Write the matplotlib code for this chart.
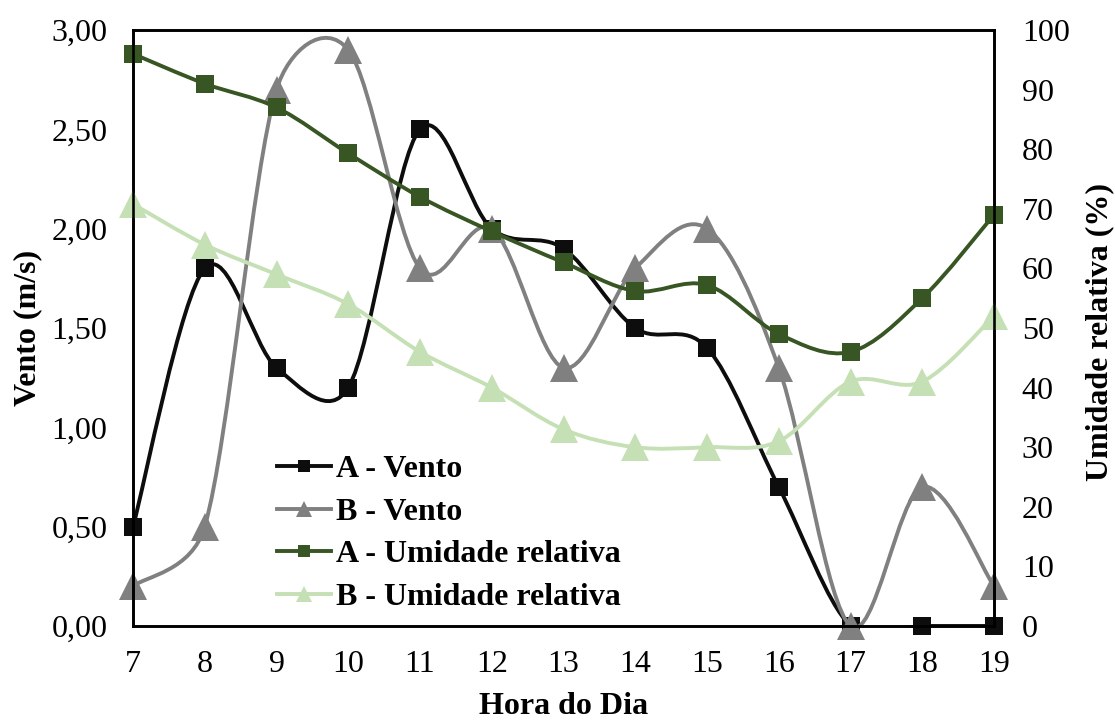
import matplotlib
matplotlib.use("Agg")
import matplotlib.pyplot as plt
from matplotlib.path import Path
from matplotlib.patches import PathPatch
from matplotlib.lines import Line2D
import numpy as np

plt.rcParams['font.family'] = ['Liberation Serif', 'DejaVu Serif']

hours = [7, 8, 9, 10, 11, 12, 13, 14, 15, 16, 17, 18, 19]
a_vento = [0.5, 1.8, 1.3, 1.2, 2.5, 2.0, 1.9, 1.5, 1.4, 0.7, 0.0, 0.0, 0.0]
b_vento = [0.2, 0.5, 2.7, 2.9, 1.8, 2.0, 1.3, 1.8, 2.0, 1.3, 0.0, 0.7, 0.2]
a_umid = [96, 91, 87, 79.3, 72, 66.2, 61, 56.2, 57.2, 49, 46, 55, 69]
b_umid = [70.8, 64, 59, 54, 46, 40, 33, 30, 30, 31, 41, 41, 52]

left_ticks = [0, 0.5, 1.0, 1.5, 2.0, 2.5, 3.0]
left_labels = ["0,00", "0,50", "1,00", "1,50", "2,00", "2,50", "3,00"]
right_ticks = [0, 10, 20, 30, 40, 50, 60, 70, 80, 90, 100]

labels = ["A - Vento", "B - Vento", "A - Umidade relativa", "B - Umidade relativa"]
colors = ["#0d0d0d", "#808080", "#375623", "#c5e0b4"]


def excel_smooth_path(ax, x, y):
    """Excel-style smoothed line: Bezier segments, control points limited
    to half the segment length (computed in display space)."""
    trans = ax.transData
    pts = trans.transform(np.column_stack([x, y]).astype(float))
    n = len(pts)
    f = 1.0 / 6.0
    verts = [pts[0]]
    codes = [Path.MOVETO]
    for i in range(n - 1):
        p0 = pts[i - 1] if i > 0 else pts[i]
        p1 = pts[i]
        p2 = pts[i + 1]
        p3 = pts[i + 2] if i + 2 < n else pts[i + 1]
        d02 = np.hypot(*(p2 - p0))
        d12 = np.hypot(*(p2 - p1))
        d13 = np.hypot(*(p3 - p1))
        f1 = f if d02 * f <= d12 / 2 else (d12 / (2 * d02) if d02 > 0 else 0)
        f2 = f if d13 * f <= d12 / 2 else (d12 / (2 * d13) if d13 > 0 else 0)
        c1 = p1 + f1 * (p2 - p0)
        c2 = p2 - f2 * (p3 - p1)
        verts += [c1, c2, p2]
        codes += [Path.CURVE4] * 3
    data_verts = trans.inverted().transform(np.array(verts))
    return Path(data_verts, codes)


fig = plt.figure(figsize=(11.15, 7.2), dpi=100)
ax = fig.add_axes([133 / 1115, 1 - 626 / 720, (994 - 133) / 1115, (626 - 30) / 720])
ax2 = ax.twinx()

ax.set_xlim(7, 19)
ax.set_ylim(0, 3)
ax2.set_xlim(7, 19)
ax2.set_ylim(0, 100)

lw = 2.8
sq = 13.5
tri = 20

series = [
    (ax, a_vento, colors[0], 's', sq),
    (ax, b_vento, colors[1], '^', tri),
    (ax2, a_umid, colors[2], 's', sq),
    (ax2, b_umid, colors[3], '^', tri),
]
for k, (a, ys, c, m, ms) in enumerate(series):
    p = PathPatch(excel_smooth_path(a, hours, ys), fill=False, edgecolor=c, linewidth=lw,
                  zorder=2 + k * 0.1, capstyle='round', joinstyle='round')
    a.add_patch(p)
    a.plot(hours, ys, linestyle='none', marker=m, markersize=ms, color=c,
           markeredgewidth=0, zorder=2.05 + k * 0.1, clip_on=False)

ax.set_xticks(hours)
ax.set_xticklabels([str(h) for h in hours])
ax.set_yticks(left_ticks)
ax.set_yticklabels(left_labels)
ax2.set_yticks(right_ticks)
ax2.set_yticklabels([str(t) for t in right_ticks])

fs = 23
ax.tick_params(axis='both', length=0, labelsize=fs)
ax.tick_params(axis='y', pad=18.5)
ax.tick_params(axis='x', pad=17)
ax2.tick_params(axis='y', length=0, labelsize=fs, pad=20)
for a in (ax, ax2):
    for s in a.spines.values():
        s.set_linewidth(1.9)
        s.set_color('black')

fig.text(28 / 1115, 1 - 328 / 720, "Vento (m/s)", rotation=90, ha='center', va='center',
         fontsize=fs, fontweight='bold')
fig.text(1100 / 1115, 1 - 332 / 720, "Umidade relativa (%)", rotation=90, ha='center',
         va='center', fontsize=fs, fontweight='bold')
fig.text(564 / 1115, 1 - 706 / 720, "Hora do Dia", ha='center', va='center',
         fontsize=fs, fontweight='bold')

handles = [
    Line2D([], [], color=colors[0], lw=lw, marker='s', markersize=8, markeredgewidth=0),
    Line2D([], [], color=colors[1], lw=lw, marker='^', markersize=11, markeredgewidth=0),
    Line2D([], [], color=colors[2], lw=lw, marker='s', markersize=8, markeredgewidth=0),
    Line2D([], [], color=colors[3], lw=lw, marker='^', markersize=11, markeredgewidth=0),
]
leg = ax2.legend(handles, labels, loc='upper left', bbox_to_anchor=(0.167, 0.287),
                 frameon=False, prop={'size': fs, 'weight': 'bold'},
                 handlelength=1.7, handletextpad=0.15, labelspacing=0.41,
                 borderpad=0, borderaxespad=0)
leg.set_zorder(10)

fig.savefig("out.png", dpi=100)
